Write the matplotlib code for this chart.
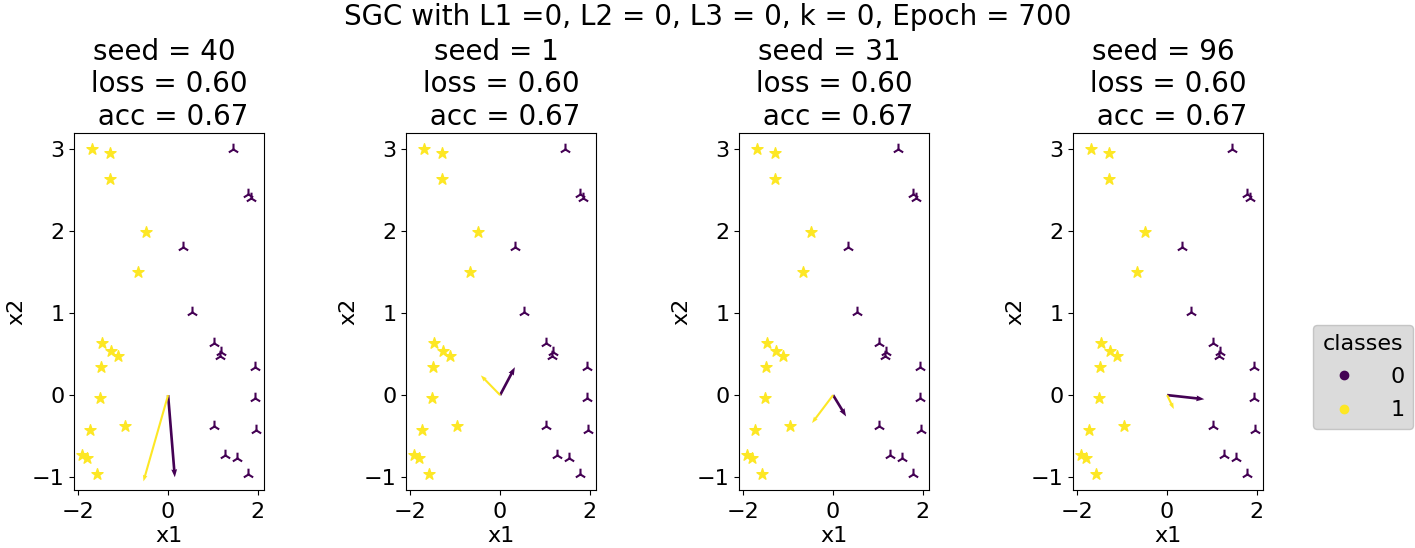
import matplotlib
matplotlib.use("Agg")
import matplotlib.pyplot as plt
from matplotlib.lines import Line2D
import numpy as np

# ---- data ----
x1_class1 = [-1.69, -1.29, -1.29, -0.49, -0.68, -1.47, -1.27, -1.12, -1.50, -1.53, -1.75, -0.97, -1.92, -1.80, -1.58]
x2_class1 = [2.99, 2.95, 2.63, 1.99, 1.50, 0.64, 0.54, 0.47, 0.34, -0.04, -0.42, -0.38, -0.73, -0.77, -0.96]
x1_class0 = [1.44, 1.79, 1.85, 0.34, 0.54, 1.03, 1.18, 1.16, 1.93, 1.93, 1.03, 1.97, 1.27, 1.53, 1.78]
x2_class0 = [3.00, 2.45, 2.40, 1.80, 1.01, 0.64, 0.53, 0.47, 0.34, -0.04, -0.37, -0.42, -0.73, -0.77, -0.96]

seeds = [40, 1, 31, 96]
losses = [0.60, 0.60, 0.60, 0.60]
accs = [0.67, 0.67, 0.67, 0.67]
# weight vectors per seed: (class0 arrow, class1 arrow)
w0 = [(0.15, -1.00), (0.33, 0.34), (0.29, -0.26), (0.83, -0.05)]
w1 = [(-0.55, -1.05), (-0.43, 0.24), (-0.47, -0.34), (0.15, -0.17)]

suptitle = "SGC with L1 =0, L2 = 0, L3 = 0, k = 0, Epoch = 700"
purple = "#440154"
yellow = "#fde725"

plt.rcParams['font.size'] = 16
fig = plt.figure(figsize=(14.15, 5.48), dpi=100)
W, H = 1415, 548
lefts = [74, 406, 739, 1073]
for i, lp in enumerate(lefts):
    ax = fig.add_axes([lp / W, (H - 490) / H, 190 / W, 357 / H])
    ax.scatter(x1_class1, x2_class1, marker='*', s=70, color=yellow)
    ax.scatter(x1_class0, x2_class0, marker='2', s=70, color=purple, linewidths=1.5)
    ax.quiver([0], [0], [w0[i][0]], [w0[i][1]], color=purple, angles='xy',
              scale_units='xy', scale=1, width=0.014, headwidth=2.2, headlength=3, headaxislength=2.8)
    ax.quiver([0], [0], [w1[i][0]], [w1[i][1]], color=yellow, angles='xy',
              scale_units='xy', scale=1, width=0.011, headwidth=2.2, headlength=3, headaxislength=2.8)
    ax.set_xlim(-2.10, 2.14)
    ax.set_ylim(-1.155, 3.19)
    ax.set_xticks([-2, 0, 2])
    ax.set_yticks([-1, 0, 1, 2, 3])
    ax.tick_params(axis='x', pad=5)
    ax.set_xlabel("x1", labelpad=3)
    ax.set_ylabel("x2")
    ax.set_title(f"seed = {seeds[i]} \n loss = {losses[i]:.2f} \n acc = {accs[i]:.2f}", fontsize=20)

fig.suptitle(suptitle, fontsize=20, y=0.995)

handles = [Line2D([], [], marker='o', linestyle='', color=purple, markersize=6),
           Line2D([], [], marker='o', linestyle='', color=yellow, markersize=6)]
fig.legend(handles, ['0', '1'], title='classes', loc='center', bbox_to_anchor=(1363 / W, 1 - 377 / H),
           facecolor='lightgray', framealpha=0.8, edgecolor='#bbbbbb', fontsize=16, title_fontsize=16,
           labelspacing=0.6, handletextpad=1.1)

fig.savefig("out.png", dpi=100)
